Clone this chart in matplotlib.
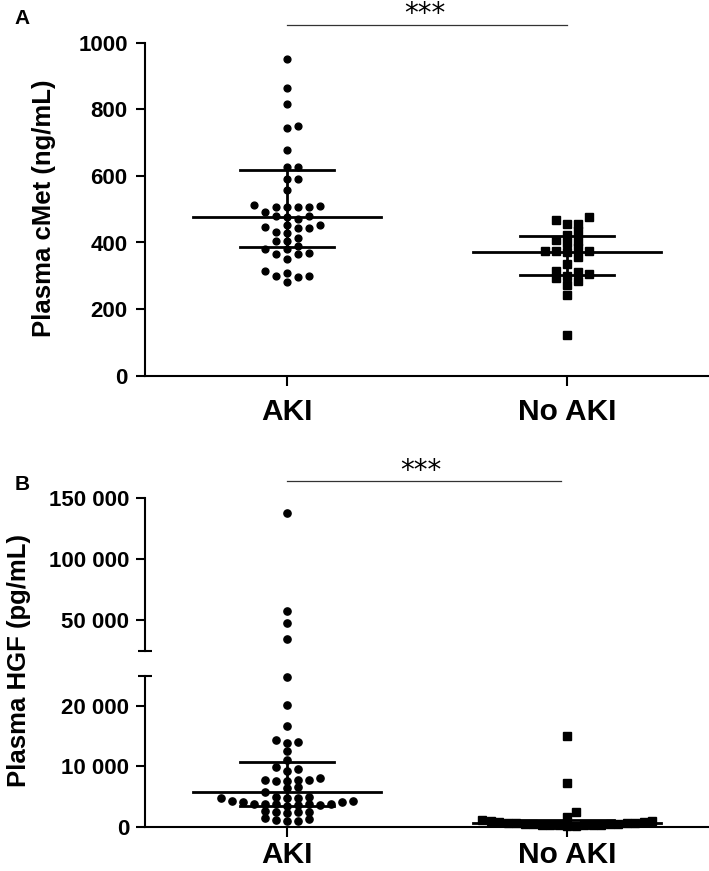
import numpy as np
import matplotlib
matplotlib.use("Agg")
import matplotlib.pyplot as plt
from matplotlib import font_manager as fm

# --- data ---
groups = ["AKI", "No AKI"]

# panel A: plasma cMet (ng/mL)
cmet_aki = [950, 863, 815, 750, 745, 679, 627, 627, 590, 590, 559,
            512, 508, 508, 507, 507, 511, 491, 479, 471, 479, 476,
            444, 452, 447, 452, 444, 431, 429, 414, 404, 404,
            379, 389, 381, 364, 364, 369, 349, 307, 299, 314, 295, 299, 280]
cmet_noaki = [477, 457, 469, 456, 424, 434, 406, 399, 409, 384, 374, 374,
              371, 374, 357, 336, 310, 292, 304, 314, 299, 283, 272, 242, 122]
cmet_median = [476, 371]
cmet_q1 = [386, 301]
cmet_q3 = [617, 419]

# panel B: plasma HGF (pg/mL)
hgf_aki = [138000, 57500, 47500, 34500, 24800, 20200, 16600, 14000, 13800, 14300,
           12500, 11100, 9800, 9600, 9200, 8000, 7800, 7700, 7600, 7800, 7500,
           6600, 6400, 5700, 4900, 4800, 4700, 4900, 4700, 4200, 4100, 4100, 4200,
           3800, 3700, 3600, 3700, 3500, 3600, 3700, 3800, 2600, 2500, 2400, 2500,
           2300, 1400, 1100, 1300, 1000, 900]
hgf_noaki = [15000, 7300, 2400, 1600, 900, 800, 700, 650, 600, 600, 550, 500, 500,
             450, 400, 350, 300, 300, 250, 200, 200, 150, 100, 1000, 1100]
hgf_median = [5700, 550]
hgf_q1 = [3450, 250]
hgf_q3 = [10700, 1050]

BREAK = 25000

# --- fonts ---
names = {f.name for f in fm.fontManager.ttflist}
plt.rcParams["font.family"] = ["Liberation Sans", "DejaVu Sans"]
plt.rcParams["font.weight"] = "bold"
if "Liberation Sans Narrow" in names:
    label_font, label_size = ["Liberation Sans Narrow", "DejaVu Sans"], 22
else:
    label_font, label_size = ["Liberation Sans", "DejaVu Sans"], 18.5

W, H = 709, 871
fig = plt.figure(figsize=(W / 100, H / 100), dpi=100)


def box(left, top, bottom, right=W):
    return [left / W, 1 - bottom / H, (right - left) / W, (bottom - top) / H]


axA = fig.add_axes(box(145, 42.7, 375.7))
axBu = fig.add_axes(box(145, 498.3, 650.5))
axBl = fig.add_axes(box(145, 675.5, 826.7))

for ax in (axA, axBu, axBl):
    ax.set_xlim(-0.507, 1.507)
    for s in ("top", "right"):
        ax.spines[s].set_visible(False)
    for s in ("left", "bottom"):
        ax.spines[s].set_linewidth(1.5)
    ax.tick_params(width=1.5, length=6.5, labelsize=16)

axA.set_ylim(0, 1000)
axA.set_yticks(range(0, 1001, 200))
axA.tick_params(axis="y", pad=6)
axA.set_xticks([0, 1], groups, fontsize=21.5)
axA.tick_params(axis="x", length=7, pad=9)

fmt = lambda v: f"{v:,.0f}".replace(",", " ")
axBu.set_ylim(BREAK, 150000)
axBu.set_yticks([50000, 100000, 150000], [fmt(v) for v in [50000, 100000, 150000]])
axBu.spines["bottom"].set_visible(False)
axBu.set_xticks([])
axBl.set_ylim(0, BREAK)
axBl.set_yticks([0, 10000, 20000], [fmt(v) for v in [0, 10000, 20000]])
axBl.set_xticks([0, 1], groups, fontsize=21.5)
axBl.tick_params(axis="x", length=7, pad=3)
for ax in (axBu, axBl):
    ax.tick_params(axis="y", pad=5)
    ax.set_yticks([BREAK], minor=True)
    ax.tick_params(axis="y", which="minor", direction="inout", length=9.5, width=1.5)


def swarm(ax, vals, dx_px=11, dy_px=7.2):
    vals = np.asarray(vals, float)
    ypix = ax.transData.transform(np.column_stack([np.zeros(len(vals)), vals]))[:, 1]
    ppu = ax.transData.transform((1, 0))[0] - ax.transData.transform((0, 0))[0]
    cols = {}
    offs = np.zeros(len(vals))
    order = [0] + [s * k for k in range(1, 40) for s in (1, -1)]
    for i in np.argsort(ypix):
        for k in order:
            if all(abs(ypix[i] - y) >= dy_px for y in cols.get(k, [])):
                cols.setdefault(k, []).append(ypix[i])
                offs[i] = k
                break
    return offs * dx_px / ppu


def dots(ax, xc, vals, marker, ms, dx_px=11):
    vals = np.asarray(vals, float)
    if len(vals) == 0:
        return
    ax.plot(xc + swarm(ax, vals, dx_px), vals, linestyle="none", marker=marker,
            ms=ms, color="black", mec="black", clip_on=False, zorder=2)


def summary(ax, xc, med, q1, q3):
    lw = 2.0
    ax.plot([xc - 0.336, xc + 0.336], [med, med], color="black", lw=lw, zorder=3)
    for q in (q1, q3):
        ax.plot([xc - 0.168, xc + 0.168], [q, q], color="black", lw=lw, zorder=3)
    ax.plot([xc, xc], [q1, q3], color="black", lw=lw, zorder=3)


markers = ["o", "s"]
sizes = [4.9, 5.3]

# panel A
for i, vals in enumerate([cmet_aki, cmet_noaki]):
    dots(axA, i, vals, markers[i], sizes[i])
    summary(axA, i, cmet_median[i], cmet_q1[i], cmet_q3[i])

# panel B, split at the axis break
for i, vals in enumerate([hgf_aki, hgf_noaki]):
    vals = np.asarray(vals, float)
    dots(axBu, i, vals[vals > BREAK], markers[i], 5.2)
    dots(axBl, i, vals[vals <= BREAK], markers[i], 5.2 if i == 0 else 5.3,
         dx_px=11 if i == 0 else 8.5)
    summary(axBl, i, hgf_median[i], hgf_q1[i], hgf_q3[i])

# significance bars
axA.plot([0, 1], [1052, 1052], color="#333333", lw=0.9, clip_on=False)
axA.text(0.493, 1062, "***", ha="center", va="baseline", fontsize=20,
         fontweight="normal", family="DejaVu Sans", clip_on=False)
axBu.plot([0, 0.98], [164200, 164200], color="#333333", lw=0.9, clip_on=False)
axBu.text(0.479, 165500, "***", ha="center", va="baseline", fontsize=20,
          fontweight="normal", family="DejaVu Sans", clip_on=False)

# axis titles and panel letters
fig.text(44 / W, 1 - 208 / H, "Plasma cMet (ng/mL)", rotation=90, ha="center",
         va="center", fontsize=label_size, family=label_font, fontweight="bold")
fig.text(19 / W, 1 - 660 / H, "Plasma HGF (pg/mL)", rotation=90, ha="center",
         va="center", fontsize=label_size, family=label_font, fontweight="bold")
fig.text(22 / W, 1 - 18 / H, "A", ha="center", va="center", fontsize=15)
fig.text(22 / W, 1 - 485 / H, "B", ha="center", va="center", fontsize=15)

fig.savefig("out.png", dpi=100)
